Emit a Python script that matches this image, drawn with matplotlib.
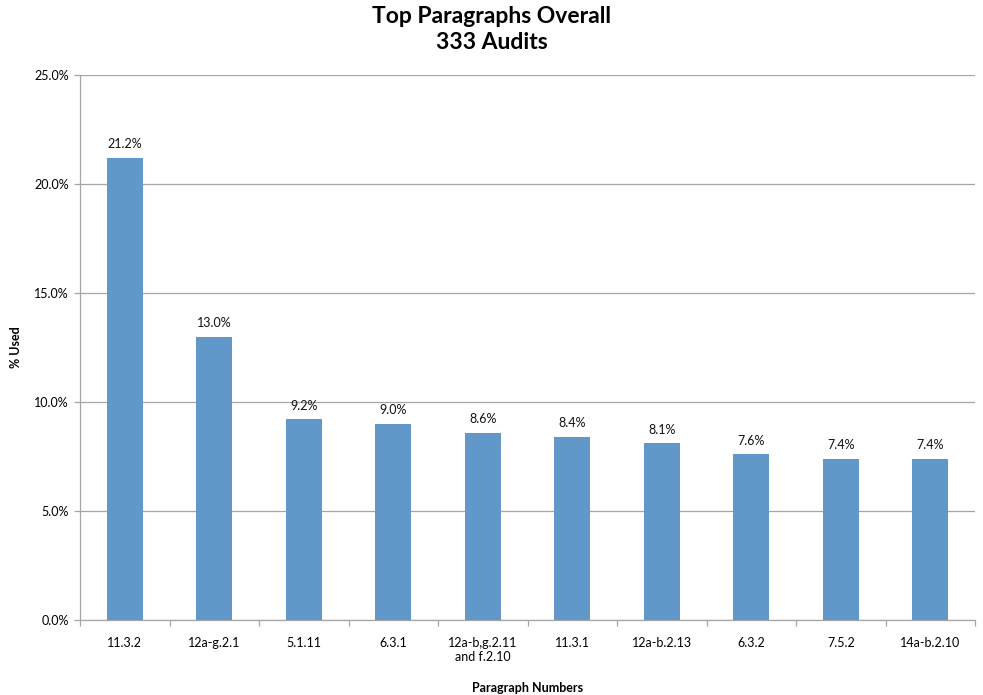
import matplotlib
matplotlib.use("Agg")
import matplotlib.pyplot as plt
from matplotlib.ticker import FuncFormatter, FixedLocator
import numpy as np

plt.rcParams['font.family'] = ['Lato', 'DejaVu Sans']

categories = ["11.3.2", "12a-g.2.1", "5.1.11", "6.3.1", "12a-b,g.2.11\nand f.2.10",
              "11.3.1", "12a-b.2.13", "6.3.2", "7.5.2", "14a-b.2.10"]
values = [21.2, 13.0, 9.2, 9.0, 8.6, 8.4, 8.1, 7.6, 7.4, 7.4]

fig = plt.figure(figsize=(9.83, 6.95), dpi=100)
ax = fig.add_axes([80/983, 75/695, (975-80)/983, (620-75)/695])

x = np.arange(len(categories))
ax.bar(x, values, width=0.4, color="#6197C9", zorder=3)
for xi, v in zip(x, values):
    ax.text(xi, v + 0.35, f"{v:.1f}%", ha="center", va="bottom", fontsize=9, color="#111111")

ax.set_xlim(-0.5, len(categories) - 0.5)
ax.set_ylim(0, 25)
ax.set_yticks(np.arange(0, 25.1, 5))
ax.yaxis.set_major_formatter(FuncFormatter(lambda v, p: f"{v:.1f}%"))
ax.yaxis.grid(True, color="#A6A6A6", linewidth=0.9, zorder=0)
ax.set_xticks(x)
ax.set_xticklabels(categories, fontsize=9)
ax.tick_params(axis="x", length=0, pad=12)
ax.xaxis.set_minor_locator(FixedLocator(np.arange(-0.5, len(categories), 1)))
ax.tick_params(axis="x", which="minor", length=4, color="#A6A6A6", width=0.9)
ax.tick_params(axis="y", length=4, color="#A6A6A6", width=0.9, labelsize=9, pad=4)

for s in ["top", "right"]:
    ax.spines[s].set_visible(False)
for s in ["left", "bottom"]:
    ax.spines[s].set_color("#A6A6A6")
    ax.spines[s].set_linewidth(0.9)

ax.set_xlabel("Paragraph Numbers", fontsize=9, fontweight="bold", labelpad=14)
ax.set_ylabel("% Used", fontsize=9, fontweight="bold", labelpad=9)
fig.suptitle("Top Paragraphs Overall\n333 Audits", fontsize=16.5, fontweight="bold", y=0.992, linespacing=1.3)

fig.savefig("out.png", dpi=100)
